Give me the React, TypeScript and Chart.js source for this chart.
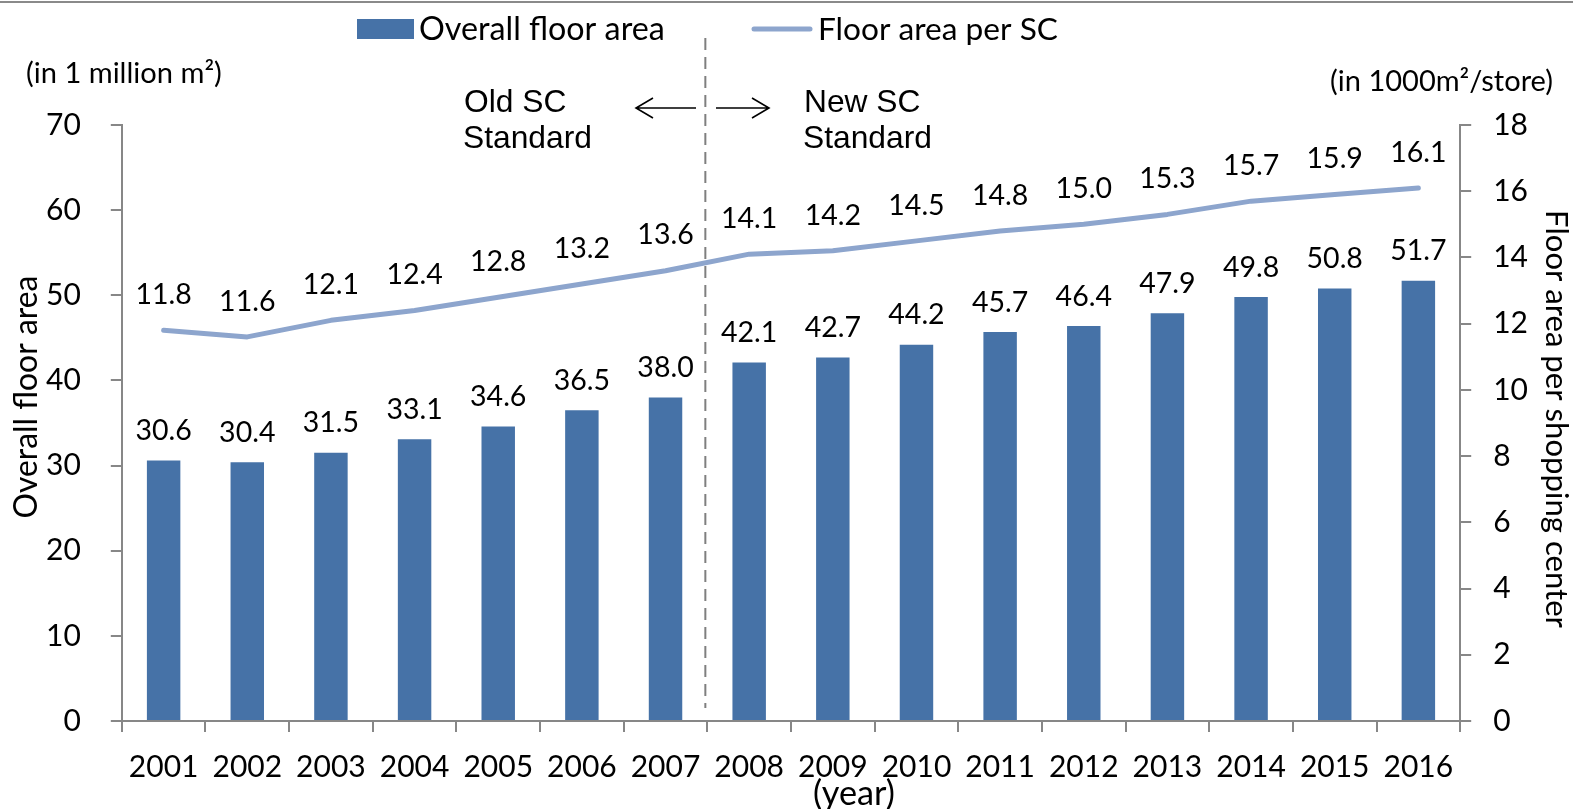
import React, { useEffect, useRef } from 'react';
import { Chart, registerables } from 'chart.js';

Chart.register(...registerables);

// ---------------- data ----------------
const years = ['2001', '2002', '2003', '2004', '2005', '2006', '2007', '2008', '2009', '2010', '2011', '2012', '2013', '2014', '2015', '2016'];
const overallFloorArea = [30.6, 30.4, 31.5, 33.1, 34.6, 36.5, 38.0, 42.1, 42.7, 44.2, 45.7, 46.4, 47.9, 49.8, 50.8, 51.7];
const floorAreaPerSC = [11.8, 11.6, 12.1, 12.4, 12.8, 13.2, 13.6, 14.1, 14.2, 14.5, 14.8, 15.0, 15.3, 15.7, 15.9, 16.1];
const leftAxisRange = [0, 70];
const leftAxisStep = 10;
const rightAxisRange = [0, 18];
const rightAxisStep = 2;
const seriesNames = ['Overall floor area', 'Floor area per SC'];
const axisTitles = ['Overall floor area', 'Floor area per shopping center'];
const unitLabels = ['(in 1 million m\u00B2)', '(in 1000m\u00B2/store)'];
const xAxisTitle = '(year)';
const standardLabels = [['Old SC', 'Standard'], ['New SC', 'Standard']];

// ---------------- styles ----------------
const BAR_COLOR = '#4672A7';
const LINE_COLOR = '#8DA5CD';
const AXIS_COLOR = '#878787';
const CAL = 'Lato, "Open Sans", sans-serif';
const ARIAL = '"Liberation Sans", Arial, sans-serif';
const TICK_FONT = { family: CAL, size: 30 };

function fitSize(ctx: CanvasRenderingContext2D, text: string, family: string, target: number) {
  ctx.font = `100px ${family}`;
  const w = ctx.measureText(text).width;
  return (100 * target) / w;
}

function drawFit(
  ctx: CanvasRenderingContext2D,
  text: string,
  x: number,
  y: number,
  family: string,
  target: number,
  align: CanvasTextAlign,
  baseline: CanvasTextBaseline
) {
  const s = fitSize(ctx, text, family, target);
  ctx.font = `${s}px ${family}`;
  ctx.textAlign = align;
  ctx.textBaseline = baseline;
  ctx.fillText(text, x, y);
}

const annotationPlugin = {
  id: 'annotations',
  afterDraw(chart: any) {
    const ctx: CanvasRenderingContext2D = chart.ctx;
    const xs = chart.scales.x;
    ctx.save();

    // top border rule
    ctx.strokeStyle = '#8a8a8a';
    ctx.lineWidth = 2;
    ctx.beginPath();
    ctx.moveTo(0, 2);
    ctx.lineTo(chart.width, 2);
    ctx.stroke();

    ctx.fillStyle = '#000';

    // data labels
    const barMeta = chart.getDatasetMeta(0);
    const lineMeta = chart.getDatasetMeta(1);
    ctx.font = `28.5px ${CAL}`;
    ctx.textAlign = 'center';
    ctx.textBaseline = 'middle';
    barMeta.data.forEach((el: any, i: number) => {
      ctx.fillText(overallFloorArea[i].toFixed(1), el.x, el.y - 29.5);
    });
    lineMeta.data.forEach((el: any, i: number) => {
      ctx.fillText(floorAreaPerSC[i].toFixed(1), el.x, el.y - 35.5);
    });

    // legend
    ctx.fillStyle = BAR_COLOR;
    ctx.fillRect(357, 19, 57, 20);
    ctx.fillStyle = '#000';
    drawFit(ctx, seriesNames[0], 419, 30, CAL, 246, 'left', 'middle');
    ctx.strokeStyle = LINE_COLOR;
    ctx.lineWidth = 5;
    ctx.lineCap = 'round';
    ctx.beginPath();
    ctx.moveTo(754, 29);
    ctx.lineTo(810, 29);
    ctx.stroke();
    drawFit(ctx, seriesNames[1], 818, 30, CAL, 240, 'left', 'middle');

    // unit labels
    drawFit(ctx, unitLabels[0], 26, 74, CAL, 196, 'left', 'middle');
    drawFit(ctx, unitLabels[1], 1553, 82, CAL, 223, 'right', 'middle');

    // axis titles
    const lt = fitSize(ctx, axisTitles[0], CAL, 243);
    ctx.save();
    ctx.translate(37, 397);
    ctx.rotate(-Math.PI / 2);
    ctx.font = `${lt}px ${CAL}`;
    ctx.textAlign = 'center';
    ctx.textBaseline = 'alphabetic';
    ctx.fillText(axisTitles[0], 0, 0);
    ctx.restore();

    const rt = fitSize(ctx, axisTitles[1], CAL, 418);
    ctx.save();
    ctx.translate(1546, 419);
    ctx.rotate(Math.PI / 2);
    ctx.font = `${rt}px ${CAL}`;
    ctx.textAlign = 'center';
    ctx.textBaseline = 'alphabetic';
    ctx.fillText(axisTitles[1], 0, 0);
    ctx.restore();

    drawFit(ctx, xAxisTitle, 854, 794, CAL, 82, 'center', 'middle');

    // standard labels
    const sf = fitSize(ctx, 'Standard', ARIAL, 129);
    ctx.font = `${sf}px ${ARIAL}`;
    ctx.textAlign = 'left';
    ctx.textBaseline = 'alphabetic';
    ctx.fillText(standardLabels[0][0], 464, 112);
    ctx.fillText(standardLabels[0][1], 463, 148);
    ctx.fillText(standardLabels[1][0], 804, 112);
    ctx.fillText(standardLabels[1][1], 803, 148);

    // dashed divider between 2007 and 2008
    const divX = (xs.getPixelForTick(6) + xs.getPixelForTick(7)) / 2 - 2;
    ctx.strokeStyle = '#7f7f7f';
    ctx.lineWidth = 2;
    ctx.lineCap = 'butt';
    ctx.setLineDash([12, 7]);
    ctx.beginPath();
    ctx.moveTo(divX, 38);
    ctx.lineTo(divX, 708);
    ctx.stroke();
    ctx.setLineDash([]);

    // arrows
    ctx.strokeStyle = '#000';
    ctx.lineWidth = 1.6;
    const ay = 108;
    ctx.beginPath();
    ctx.moveTo(696, ay);
    ctx.lineTo(636, ay);
    ctx.moveTo(653, ay - 10);
    ctx.lineTo(636, ay);
    ctx.lineTo(653, ay + 10);
    ctx.moveTo(716, ay);
    ctx.lineTo(769, ay);
    ctx.moveTo(752, ay - 10);
    ctx.lineTo(769, ay);
    ctx.lineTo(752, ay + 10);
    ctx.stroke();

    ctx.restore();
  },
};

export default function App() {
  const ref = useRef<HTMLCanvasElement | null>(null);

  useEffect(() => {
    if (!ref.current) return;
    const chart = new Chart(ref.current, {
      type: 'bar',
      data: {
        labels: years,
        datasets: [
          {
            type: 'bar',
            label: seriesNames[0],
            data: overallFloorArea,
            yAxisID: 'y',
            backgroundColor: BAR_COLOR,
            barPercentage: 0.4,
            categoryPercentage: 1,
            order: 1,
          },
          {
            type: 'line',
            label: seriesNames[1],
            data: floorAreaPerSC,
            yAxisID: 'y1',
            borderColor: LINE_COLOR,
            backgroundColor: LINE_COLOR,
            borderWidth: 5,
            pointRadius: 0,
            tension: 0,
            borderCapStyle: 'round',
            borderJoinStyle: 'round',
            order: 0,
          },
        ] as any,
      },
      options: {
        responsive: false,
        animation: false,
        devicePixelRatio: 1,
        layout: { padding: { left: 16, right: 23, top: 125, bottom: 7 } },
        plugins: {
          legend: { display: false },
          tooltip: { enabled: false },
        },
        scales: {
          x: {
            type: 'category',
            offset: true,
            grid: { offset: true, drawOnChartArea: false, drawTicks: true, tickLength: 11, color: AXIS_COLOR, lineWidth: 2 },
            border: { display: true, color: AXIS_COLOR, width: 2 },
            ticks: { font: TICK_FONT, color: '#000', padding: 17, maxRotation: 0, autoSkip: false },
          },
          y: {
            position: 'left',
            min: leftAxisRange[0],
            max: leftAxisRange[1],
            grid: { drawOnChartArea: false, drawTicks: true, tickLength: 11, color: AXIS_COLOR, lineWidth: 2 },
            border: { display: true, color: AXIS_COLOR, width: 2 },
            ticks: { stepSize: leftAxisStep, font: TICK_FONT, color: '#000', padding: 30 },
          },
          y1: {
            position: 'right',
            min: rightAxisRange[0],
            max: rightAxisRange[1],
            grid: { drawOnChartArea: false, drawTicks: true, tickLength: 11, color: AXIS_COLOR, lineWidth: 2 },
            border: { display: true, color: AXIS_COLOR, width: 2 },
            ticks: { stepSize: rightAxisStep, font: TICK_FONT, color: '#000', padding: 22 },
          },
        },
      } as any,
      plugins: [annotationPlugin],
    });
    return () => chart.destroy();
  }, []);

  return (
    <div style={{ position: 'absolute', left: 0, top: 0, width: 1573, height: 809, background: '#fff' }}>
      <canvas ref={ref} width={1573} height={809} style={{ display: 'block', width: 1573, height: 809 }} />
    </div>
  );
}
